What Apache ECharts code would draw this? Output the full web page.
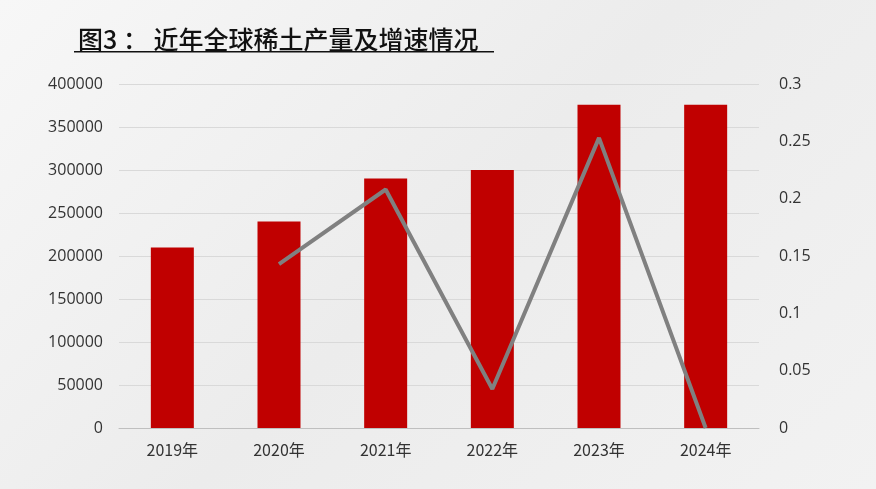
<!DOCTYPE html>
<html><head><meta charset="utf-8">
<script src="https://cdn.jsdelivr.net/npm/echarts@6/dist/echarts.min.js"></script>
<style>html,body{margin:0;padding:0;}#c{width:876px;height:489px;background:linear-gradient(135deg,#f7f7f7 0%,#ececec 50%,#f2f2f2 100%);}</style>
</head><body><div id="c"></div>
<script>
const categories = ['2019年','2020年','2021年','2022年','2023年','2024年'];
const production = [210000, 240000, 290000, 300000, 376000, 376000];
const growth = [null, 0.143, 0.208, 0.034, 0.253, 0];
const leftTicks = {min:0, max:400000, interval:50000};
const rightTicks = {min:0, max:0.3, interval:0.05};
const chart = echarts.init(document.getElementById('c'));
chart.setOption({
  animation:false,
  title:{text:'图3 ： 近年全球稀土产量及增速情况', left:73, top:22,
    textStyle:{fontFamily:'Noto Sans CJK SC', fontSize:25, fontWeight:500, color:'#111'}},
  graphic:[{type:'rect', shape:{x:74,y:51,width:420,height:1.5}, style:{fill:'#111'}}],
  grid:{left:119, right:117, top:84, bottom:61},
  xAxis:{type:'category', data:categories, axisTick:{show:false},
    axisLine:{lineStyle:{color:'#bfbfbf'}},
    axisLabel:{fontFamily:'Noto Sans CJK SC', fontSize:16, color:'#333', margin:14}},
  yAxis:[
    {type:'value', ...leftTicks, axisLine:{show:false}, axisTick:{show:false},
      splitLine:{lineStyle:{color:'#d9d9d9'}},
      axisLabel:{fontFamily:'Open Sans', fontSize:16, color:'#333', margin:16, formatter:v=>String(v)}},
    {type:'value', ...rightTicks, axisLine:{show:false}, axisTick:{show:false}, splitLine:{show:false},
      axisLabel:{fontFamily:'Open Sans', fontSize:16, color:'#333', margin:20, align:'left'}}
  ],
  series:[
    {type:'bar', data:production, barWidth:43, itemStyle:{color:'#c00000'}},
    {type:'line', yAxisIndex:1, data:growth, symbol:'none', lineStyle:{color:'#808080', width:4}}
  ]
});
</script></body></html>
